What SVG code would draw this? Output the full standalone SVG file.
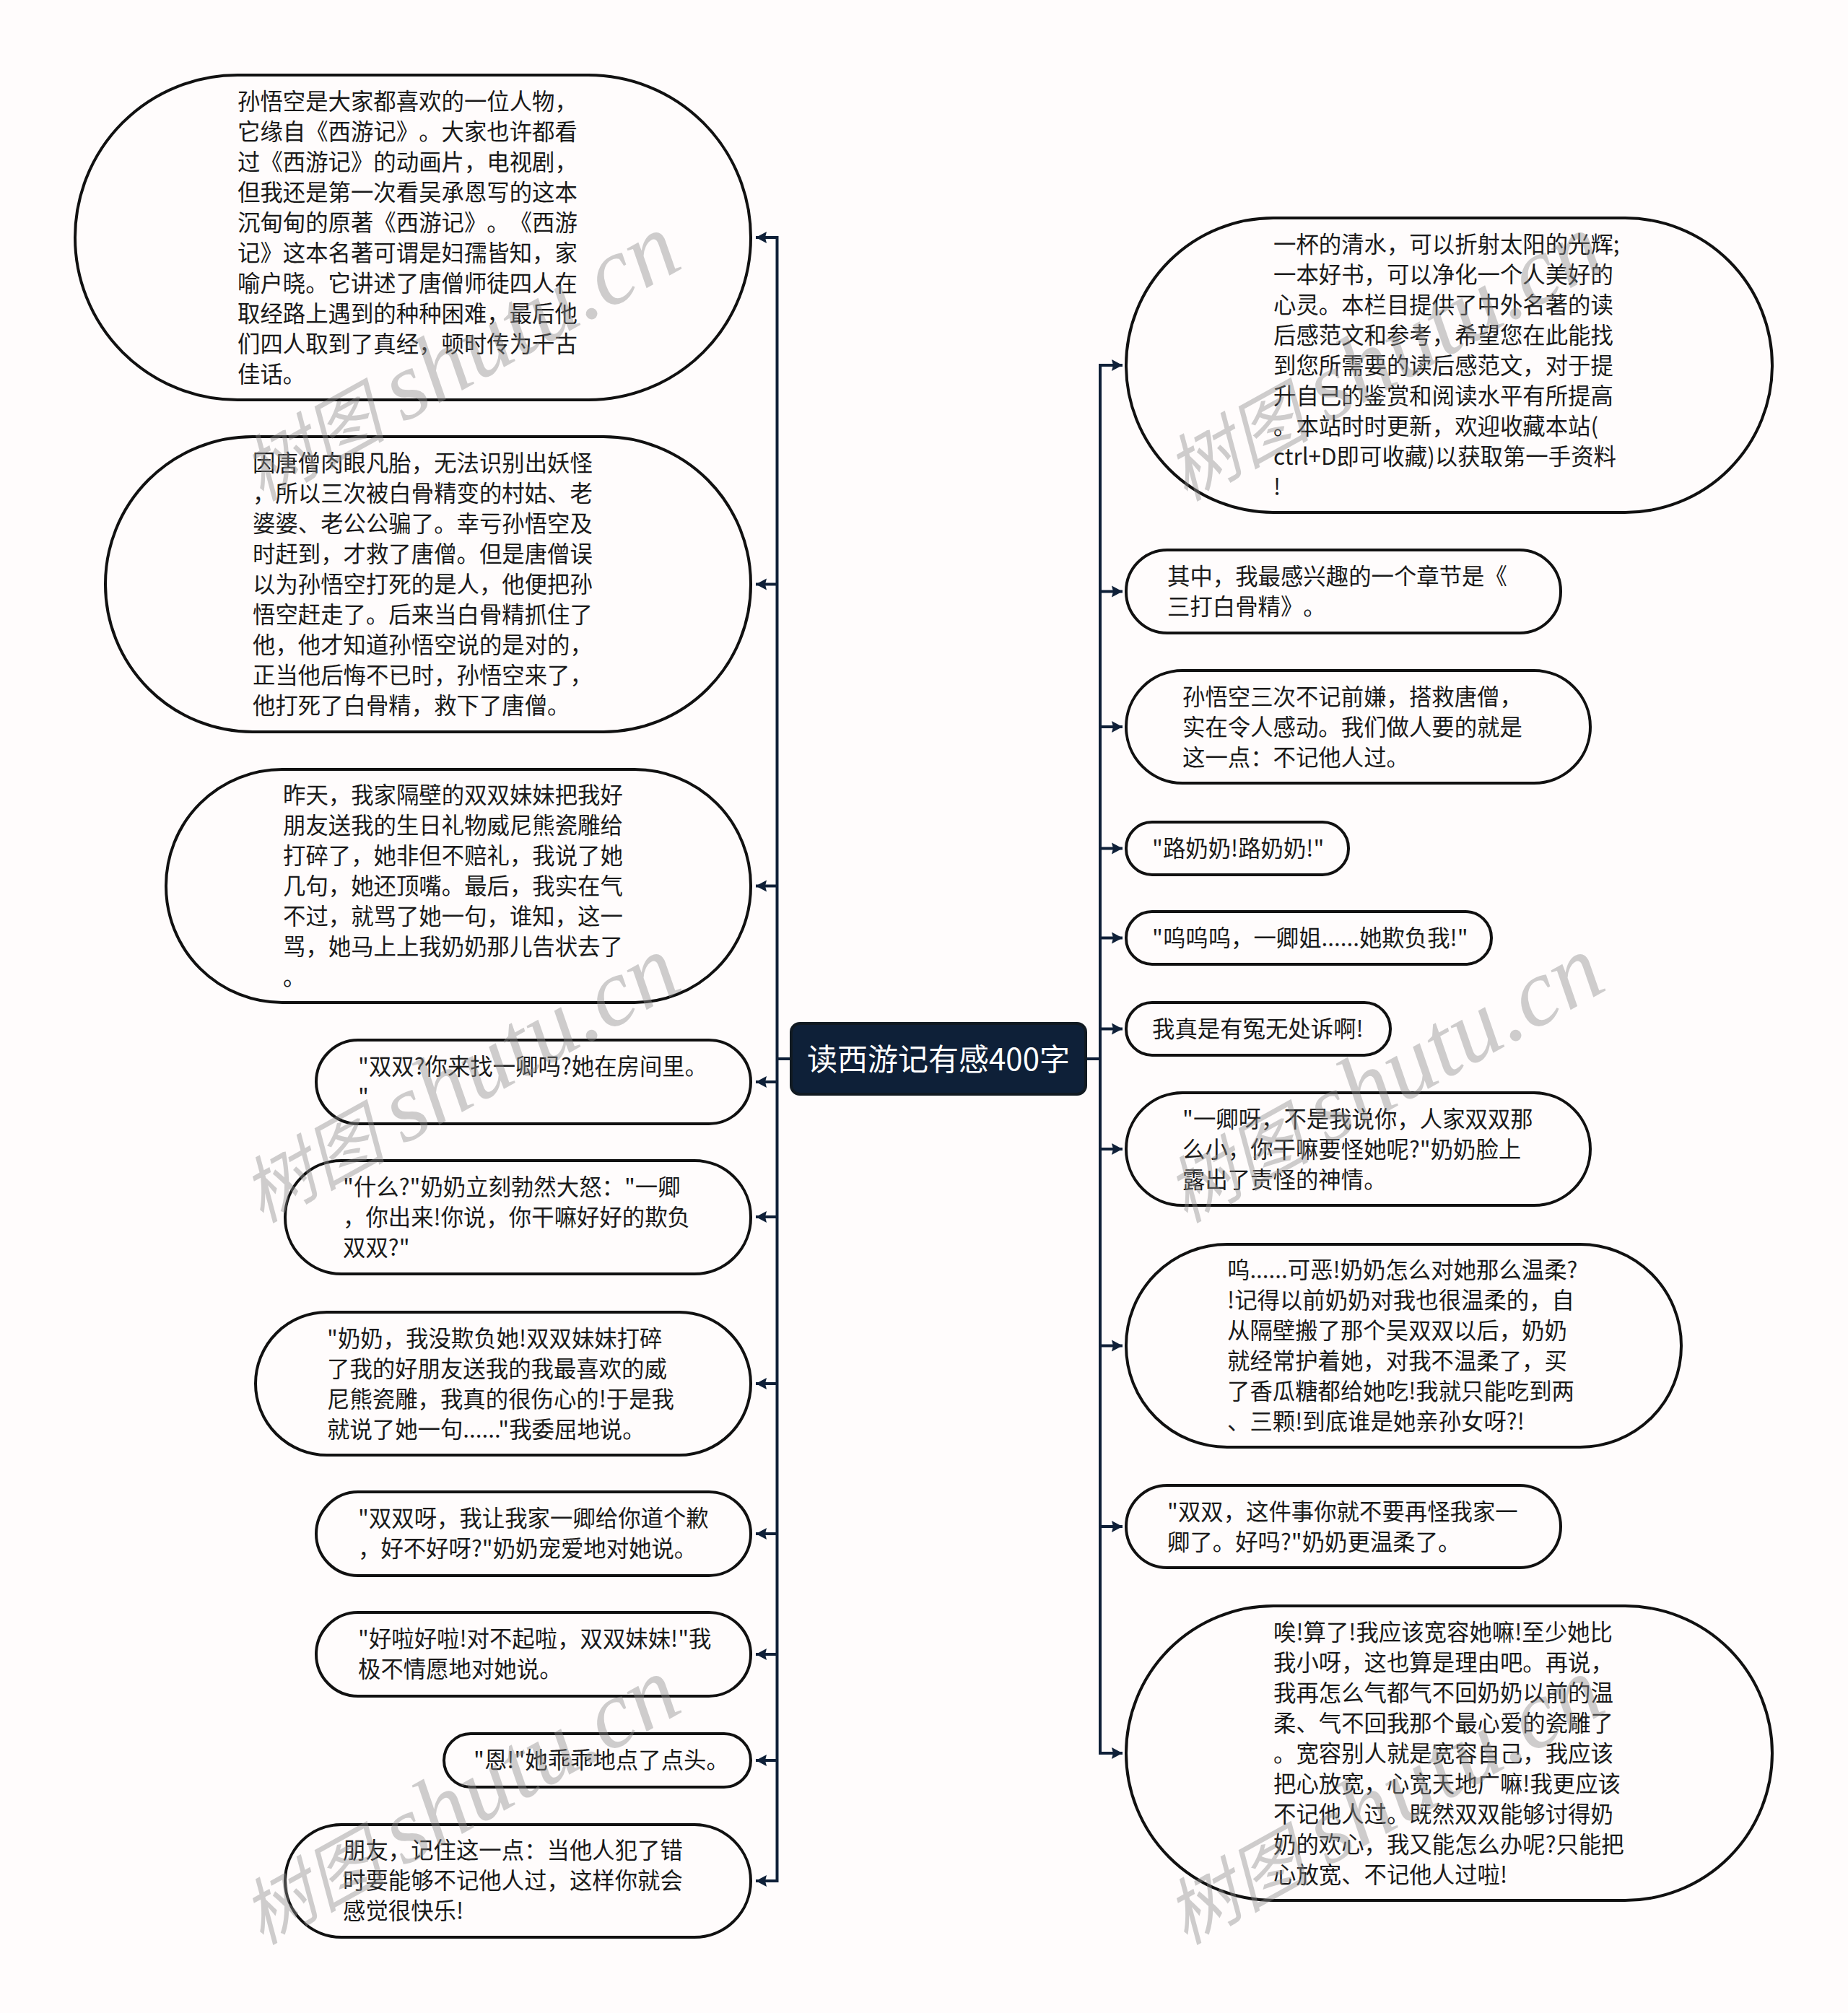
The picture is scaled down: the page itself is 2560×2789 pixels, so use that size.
<svg xmlns="http://www.w3.org/2000/svg" width="2560" height="2789" viewBox="0 0 2560 2789">
<style>
text{text-spacing-trim:space-all;font-feature-settings:"chws" 0}
.n{fill:#fffcfc;stroke:#111;stroke-width:4}
.t{font-family:"Noto Sans CJK SC","Noto Sans",sans-serif;font-size:31.4px;fill:#1a1a1a}
.c{fill:none;stroke:#0f2038;stroke-width:4}
.b{fill:none;stroke:#0f2038;stroke-width:4;marker-end:url(#a)}
.w{font-family:"Liberation Serif","Noto Sans CJK SC",serif;font-style:italic;font-size:133px;fill:#8c8c8c;opacity:.42}
.z{font-size:100px}
</style>
<defs><marker id="a" markerUnits="userSpaceOnUse" markerWidth="16" markerHeight="18" refX="15" refY="9" orient="auto"><path d="M0,1L15,9L0,17L2,9z" fill="#0f2038"/></marker></defs>
<rect width="2560" height="2789" fill="#fffcfc"/>
<g id="connectors">
<path class="c" d="M1096,1467H1076.500M1504,1467H1524"/>
<path class="b" d="M1076.500,1467V329H1047"/>
<path class="b" d="M1076.500,809.500H1047"/>
<path class="b" d="M1076.500,1227.500H1047"/>
<path class="b" d="M1076.500,1499H1047"/>
<path class="b" d="M1076.500,1686H1047"/>
<path class="b" d="M1076.500,1917H1047"/>
<path class="b" d="M1076.500,2125H1047"/>
<path class="b" d="M1076.500,2292H1047"/>
<path class="b" d="M1076.500,2439H1047"/>
<path class="b" d="M1076.500,1467V2606H1047"/>
<path class="b" d="M1524,1467V506H1555"/>
<path class="b" d="M1524,819.500H1555"/>
<path class="b" d="M1524,1007H1555"/>
<path class="b" d="M1524,1175.500H1555"/>
<path class="b" d="M1524,1299.500H1555"/>
<path class="b" d="M1524,1425.500H1555"/>
<path class="b" d="M1524,1592H1555"/>
<path class="b" d="M1524,1864.500H1555"/>
<path class="b" d="M1524,2115H1555"/>
<path class="b" d="M1524,1467V2429H1555"/>
</g>
<g id="root"><rect x="1096" y="1418" width="408" height="98" rx="12" fill="#0e2038" stroke="#111a22" stroke-width="4"/><text x="1300" y="1483" text-anchor="middle" font-family="Noto Sans CJK SC, sans-serif" font-size="42" fill="#fff">读西游记有感400字</text></g>
<g id="l1"><rect class="n" x="104" y="104" width="936" height="450" rx="225"/><text class="t"><tspan x="329" y="152">孙悟空是大家都喜欢的一位人物，</tspan><tspan x="329" y="194">它缘自《西游记》。大家也许都看</tspan><tspan x="329" y="236">过《西游记》的动画片，电视剧，</tspan><tspan x="329" y="278">但我还是第一次看吴承恩写的这本</tspan><tspan x="329" y="320">沉甸甸的原著《西游记》。《西游</tspan><tspan x="329" y="362">记》这本名著可谓是妇孺皆知，家</tspan><tspan x="329" y="404">喻户晓。它讲述了唐僧师徒四人在</tspan><tspan x="329" y="446">取经路上遇到的种种困难，最后他</tspan><tspan x="329" y="488">们四人取到了真经，顿时传为千古</tspan><tspan x="329" y="530">佳话。</tspan></text></g>
<g id="l2"><rect class="n" x="146" y="605" width="894" height="409" rx="204"/><text class="t"><tspan x="350" y="653">因唐僧肉眼凡胎，无法识别出妖怪</tspan><tspan x="350" y="695">，所以三次被白骨精变的村姑、老</tspan><tspan x="350" y="737">婆婆、老公公骗了。幸亏孙悟空及</tspan><tspan x="350" y="779">时赶到，才救了唐僧。但是唐僧误</tspan><tspan x="350" y="821">以为孙悟空打死的是人，他便把孙</tspan><tspan x="350" y="863">悟空赶走了。后来当白骨精抓住了</tspan><tspan x="350" y="905">他，他才知道孙悟空说的是对的，</tspan><tspan x="350" y="947">正当他后悔不已时，孙悟空来了，</tspan><tspan x="350" y="989">他打死了白骨精，救下了唐僧。</tspan></text></g>
<g id="l3"><rect class="n" x="230" y="1066" width="810" height="323" rx="161"/><text class="t"><tspan x="392" y="1113">昨天，我家隔壁的双双妹妹把我好</tspan><tspan x="392" y="1155">朋友送我的生日礼物威尼熊瓷雕给</tspan><tspan x="392" y="1197">打碎了，她非但不赔礼，我说了她</tspan><tspan x="392" y="1239">几句，她还顶嘴。最后，我实在气</tspan><tspan x="392" y="1281">不过，就骂了她一句，谁知，这一</tspan><tspan x="392" y="1323">骂，她马上上我奶奶那儿告状去了</tspan><tspan x="392" y="1365">。</tspan></text></g>
<g id="l4"><rect class="n" x="438" y="1441" width="602" height="116" rx="58"/><text class="t"><tspan x="496" y="1489">"双双?你来找一卿吗?她在房间里。</tspan><tspan x="496" y="1531">"</tspan></text></g>
<g id="l5"><rect class="n" x="395" y="1608" width="645" height="157" rx="78"/><text class="t"><tspan x="475" y="1656">"什么?"奶奶立刻勃然大怒："一卿</tspan><tspan x="475" y="1698">，你出来!你说，你干嘛好好的欺负</tspan><tspan x="475" y="1740">双双?"</tspan></text></g>
<g id="l6"><rect class="n" x="354" y="1818" width="686" height="198" rx="99"/><text class="t"><tspan x="453" y="1866">"奶奶，我没欺负她!双双妹妹打碎</tspan><tspan x="453" y="1908">了我的好朋友送我的我最喜欢的威</tspan><tspan x="453" y="1950">尼熊瓷雕，我真的很伤心的!于是我</tspan><tspan x="453" y="1992">就说了她一句......"我委屈地说。</tspan></text></g>
<g id="l7"><rect class="n" x="438" y="2067" width="602" height="116" rx="58"/><text class="t"><tspan x="496" y="2115">"双双呀，我让我家一卿给你道个歉</tspan><tspan x="496" y="2157">，好不好呀?"奶奶宠爱地对她说。</tspan></text></g>
<g id="l8"><rect class="n" x="438" y="2234" width="602" height="116" rx="58"/><text class="t"><tspan x="496" y="2282">"好啦好啦!对不起啦，双双妹妹!"我</tspan><tspan x="496" y="2324">极不情愿地对她说。</tspan></text></g>
<g id="l9"><rect class="n" x="615" y="2402" width="425" height="74" rx="37"/><text class="t"><tspan x="656" y="2450">"恩!"她乖乖地点了点头。</tspan></text></g>
<g id="l10"><rect class="n" x="395" y="2528" width="645" height="156" rx="78"/><text class="t"><tspan x="475" y="2575">朋友，记住这一点：当他人犯了错</tspan><tspan x="475" y="2617">时要能够不记他人过，这样你就会</tspan><tspan x="475" y="2659">感觉很快乐!</tspan></text></g>
<g id="r1"><rect class="n" x="1560" y="302" width="895" height="408" rx="204"/><text class="t"><tspan x="1764" y="350">一杯的清水，可以折射太阳的光辉;</tspan><tspan x="1764" y="392">一本好书，可以净化一个人美好的</tspan><tspan x="1764" y="434">心灵。本栏目提供了中外名著的读</tspan><tspan x="1764" y="476">后感范文和参考，希望您在此能找</tspan><tspan x="1764" y="518">到您所需要的读后感范文，对于提</tspan><tspan x="1764" y="560">升自己的鉴赏和阅读水平有所提高</tspan><tspan x="1764" y="602">。本站时时更新，欢迎收藏本站(</tspan><tspan x="1764" y="644">ctrl+D即可收藏)以获取第一手资料</tspan><tspan x="1764" y="686">!</tspan></text></g>
<g id="r2"><rect class="n" x="1560" y="762" width="602" height="115" rx="57"/><text class="t"><tspan x="1617" y="810">其中，我最感兴趣的一个章节是《</tspan><tspan x="1617" y="852">三打白骨精》。</tspan></text></g>
<g id="r3"><rect class="n" x="1560" y="929" width="643" height="156" rx="78"/><text class="t"><tspan x="1638" y="977">孙悟空三次不记前嫌，搭救唐僧，</tspan><tspan x="1638" y="1019">实在令人感动。我们做人要的就是</tspan><tspan x="1638" y="1061">这一点：不记他人过。</tspan></text></g>
<g id="r4"><rect class="n" x="1560" y="1139" width="308" height="73" rx="36"/><text class="t"><tspan x="1596" y="1187">"路奶奶!路奶奶!"</tspan></text></g>
<g id="r5"><rect class="n" x="1560" y="1263" width="506" height="73" rx="36"/><text class="t"><tspan x="1596" y="1311">"呜呜呜，一卿姐......她欺负我!"</tspan></text></g>
<g id="r6"><rect class="n" x="1560" y="1389" width="366" height="73" rx="36"/><text class="t"><tspan x="1596" y="1437">我真是有冤无处诉啊!</tspan></text></g>
<g id="r7"><rect class="n" x="1560" y="1514" width="643" height="156" rx="78"/><text class="t"><tspan x="1638" y="1562">"一卿呀，不是我说你，人家双双那</tspan><tspan x="1638" y="1604">么小，你干嘛要怪她呢?"奶奶脸上</tspan><tspan x="1638" y="1646">露出了责怪的神情。</tspan></text></g>
<g id="r8"><rect class="n" x="1560" y="1724" width="769" height="281" rx="140"/><text class="t"><tspan x="1700" y="1771">呜......可恶!奶奶怎么对她那么温柔?</tspan><tspan x="1700" y="1813">!记得以前奶奶对我也很温柔的，自</tspan><tspan x="1700" y="1855">从隔壁搬了那个吴双双以后，奶奶</tspan><tspan x="1700" y="1897">就经常护着她，对我不温柔了，买</tspan><tspan x="1700" y="1939">了香瓜糖都给她吃!我就只能吃到两</tspan><tspan x="1700" y="1981">、三颗!到底谁是她亲孙女呀?!</tspan></text></g>
<g id="r9"><rect class="n" x="1560" y="2058" width="602" height="114" rx="57"/><text class="t"><tspan x="1617" y="2106">"双双，这件事你就不要再怪我家一</tspan><tspan x="1617" y="2148">卿了。好吗?"奶奶更温柔了。</tspan></text></g>
<g id="r10"><rect class="n" x="1560" y="2225" width="895" height="408" rx="204"/><text class="t"><tspan x="1764" y="2273">唉!算了!我应该宽容她嘛!至少她比</tspan><tspan x="1764" y="2315">我小呀，这也算是理由吧。再说，</tspan><tspan x="1764" y="2357">我再怎么气都气不回奶奶以前的温</tspan><tspan x="1764" y="2399">柔、气不回我那个最心爱的瓷雕了</tspan><tspan x="1764" y="2441">。宽容别人就是宽容自己，我应该</tspan><tspan x="1764" y="2483">把心放宽，心宽天地广嘛!我更应该</tspan><tspan x="1764" y="2525">不记他人过。既然双双能够讨得奶</tspan><tspan x="1764" y="2567">奶的欢心，我又能怎么办呢?只能把</tspan><tspan x="1764" y="2609">心放宽、不记他人过啦!</tspan></text></g>
<g id="watermarks">
<text class="w" transform="translate(362 695) rotate(-29)"><tspan class="z">树图 </tspan>shutu.cn</text>
<text class="w" transform="translate(362 1695) rotate(-29)"><tspan class="z">树图 </tspan>shutu.cn</text>
<text class="w" transform="translate(362 2695) rotate(-29)"><tspan class="z">树图 </tspan>shutu.cn</text>
<text class="w" transform="translate(1642 695) rotate(-29)"><tspan class="z">树图 </tspan>shutu.cn</text>
<text class="w" transform="translate(1642 1695) rotate(-29)"><tspan class="z">树图 </tspan>shutu.cn</text>
<text class="w" transform="translate(1642 2695) rotate(-29)"><tspan class="z">树图 </tspan>shutu.cn</text>
</g>
</svg>
